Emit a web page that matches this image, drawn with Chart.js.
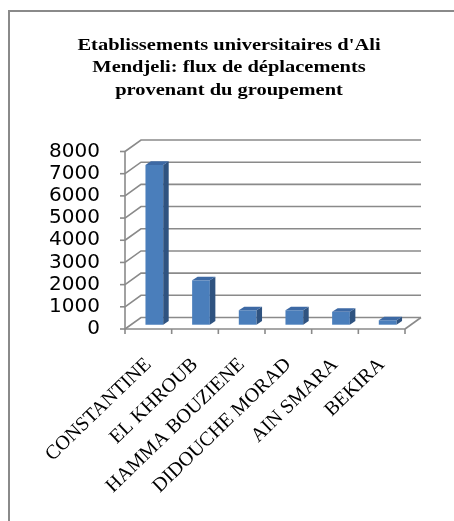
<!DOCTYPE html>
<html>
<head>
<meta charset="utf-8">
<script src="https://cdn.jsdelivr.net/npm/chart.js@4.4.1/dist/chart.umd.min.js"></script>
<style>
  html, body { margin: 0; padding: 0; background: #fff; overflow: hidden; }
  #wrap { position: relative; width: 454px; height: 521px; }
  #frame { position: absolute; left: 8px; top: 10px; width: 600px; height: 600px; border: 2px solid #8a8a8a; }
  canvas { position: absolute; left: 0; top: 0; }
</style>
</head>
<body>
<div id="wrap">
  <div id="frame"></div>
  <canvas id="chart" width="454" height="521"></canvas>
</div>
<script>
const titleLines = [
  "Etablissements universitaires d'Ali",
  "Mendjeli: flux de déplacements",
  "provenant du groupement"
];
const categories = ["CONSTANTINE", "EL KHROUB", "HAMMA BOUZIENE", "DIDOUCHE MORAD", "AIN SMARA", "BEKIRA"];
const flux = [7200, 2000, 650, 650, 580, 200];
const yTicks = [0, 1000, 2000, 3000, 4000, 5000, 6000, 7000, 8000];

// pseudo 3D : profondeur du mur du fond et des barres
const depth = { dx: 16, dy: -11.5 };
const barShift = { dx: 6, dy: -4.3 };
const barDepth = { dx: 5.5, dy: -3.6 };
const gridColor = "#8a8a8a";
const frontColor = "#4a7ebb";
const sideColor = "#2f5380";
const topColor = "#3d69a4";
// le titre de l'original est une police serif tres large
const titleStretch = 1.24;

const line = (ctx, pts) => {
  ctx.beginPath();
  ctx.moveTo(pts[0][0], pts[0][1]);
  pts.slice(1).forEach(([px, py]) => ctx.lineTo(px, py));
  ctx.stroke();
};

const wideTitle = {
  id: "wideTitle",
  afterLayout(chart) {
    const block = chart.titleBlock;
    if (!block || block._wide) return;
    const draw = block.draw.bind(block);
    block.draw = (area) => {
      const ctx = chart.ctx;
      const cx = (block.left + block.right) / 2;
      ctx.save();
      ctx.translate(cx, 0);
      ctx.scale(titleStretch, 1);
      ctx.translate(-cx, 0);
      draw(area);
      ctx.restore();
    };
    block._wide = true;
  }
};

const walls3d = {
  id: "walls3d",
  beforeDatasetsDraw(chart) {
    const { ctx, chartArea: a, scales: { y } } = chart;
    ctx.save();
    ctx.strokeStyle = gridColor;
    ctx.lineWidth = 1.6;
    // mur lateral + mur du fond
    y.ticks.forEach((t) => {
      const py = y.getPixelForValue(t.value);
      line(ctx, [[a.left, py], [a.left + depth.dx, py + depth.dy], [a.right + depth.dx, py + depth.dy]]);
    });
    // bord droit du sol
    line(ctx, [[a.right, a.bottom], [a.right + depth.dx, a.bottom + depth.dy]]);
    ctx.restore();

    // les barres sont posees un peu en retrait dans la profondeur
    ctx.save();
    ctx.translate(barShift.dx, barShift.dy);
  },
  afterDatasetsDraw(chart) {
    const { ctx, chartArea: a, scales: { x, y } } = chart;
    chart.getDatasetMeta(0).data.forEach((bar) => {
      const { x: cx, y: top, base, width } = bar.getProps(["x", "y", "base", "width"], true);
      const l = cx - width / 2;
      const r = cx + width / 2;
      ctx.fillStyle = sideColor;
      ctx.beginPath();
      ctx.moveTo(r, top);
      ctx.lineTo(r + barDepth.dx, top + barDepth.dy);
      ctx.lineTo(r + barDepth.dx, base + barDepth.dy);
      ctx.lineTo(r, base);
      ctx.closePath();
      ctx.fill();
      ctx.fillStyle = topColor;
      ctx.beginPath();
      ctx.moveTo(l, top);
      ctx.lineTo(l + barDepth.dx, top + barDepth.dy);
      ctx.lineTo(r + barDepth.dx, top + barDepth.dy);
      ctx.lineTo(r, top);
      ctx.closePath();
      ctx.fill();
    });
    ctx.restore();

    // axes de face
    ctx.save();
    ctx.strokeStyle = gridColor;
    ctx.lineWidth = 1.6;
    line(ctx, [[a.left, a.top], [a.left, a.bottom], [a.right, a.bottom]]);
    y.ticks.forEach((t) => {
      const py = y.getPixelForValue(t.value);
      line(ctx, [[a.left - 5, py], [a.left, py]]);
    });
    for (let i = 0; i <= categories.length; i++) {
      const px = x.getPixelForValue(i - 0.5);
      line(ctx, [[px, a.bottom], [px, a.bottom + 5]]);
    }
    ctx.restore();
  }
};

new Chart(document.getElementById("chart"), {
  type: "bar",
  data: {
    labels: categories,
    datasets: [{
      data: flux,
      backgroundColor: frontColor,
      borderWidth: 0,
      barPercentage: 0.38,
      categoryPercentage: 1,
      clip: false
    }]
  },
  options: {
    responsive: false,
    animation: false,
    devicePixelRatio: 1,
    layout: { padding: { left: 4, right: 0, top: 22, bottom: 0 } },
    plugins: {
      legend: { display: false },
      tooltip: { enabled: false },
      title: {
        display: true,
        text: titleLines,
        color: "#000",
        font: { family: "'Liberation Serif', serif", size: 16.5, weight: "bold", lineHeight: "22.5px" },
        padding: { top: 12, bottom: 50 }
      }
    },
    scales: {
      y: {
        min: 0,
        max: 8000,
        afterBuildTicks: (scale) => { scale.ticks = yTicks.map((v) => ({ value: v })); },
        afterFit: (scale) => { scale.width = 121; },
        grid: { display: false, drawTicks: false },
        border: { display: false },
        ticks: {
          color: "#000",
          autoSkip: false,
          padding: 25,
          callback: (v) => String(v),
          font: { family: "'DejaVu Sans', sans-serif", size: 20 }
        }
      },
      // axe vide a droite : reserve la marge droite sans decentrer le titre
      yRight: {
        position: "right",
        afterFit: (scale) => { scale.width = 49; },
        grid: { display: false, drawTicks: false },
        border: { display: false },
        ticks: { display: false }
      },
      x: {
        afterFit: (scale) => { scale.height = 192; },
        grid: { display: false, drawTicks: false },
        border: { display: false },
        ticks: {
          color: "#000",
          autoSkip: false,
          minRotation: 44,
          maxRotation: 44,
          padding: 24,
          font: { family: "'Liberation Serif', serif", size: 20 }
        }
      }
    }
  },
  plugins: [walls3d, wideTitle]
});
</script>
</body>
</html>
